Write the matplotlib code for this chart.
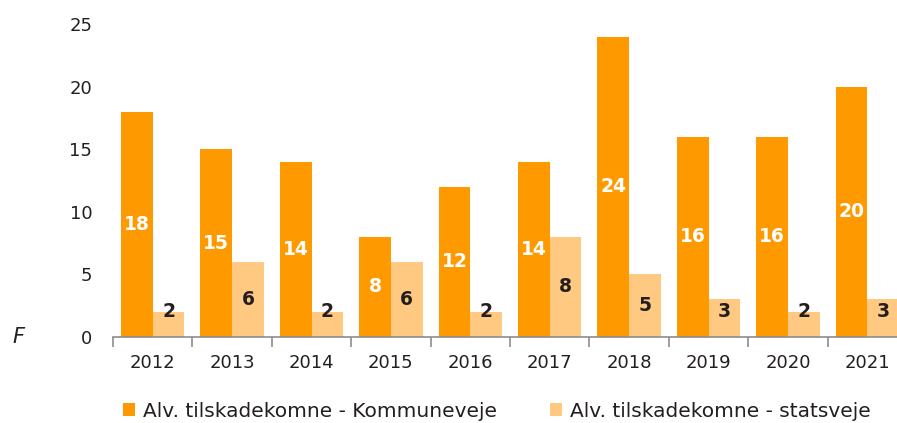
import matplotlib.pyplot as plt
import numpy as np

years = ["2012", "2013", "2014", "2015", "2016", "2017", "2018", "2019", "2020", "2021"]
kommuneveje = [18, 15, 14, 8, 12, 14, 24, 16, 16, 20]
statsveje = [2, 6, 2, 6, 2, 8, 5, 3, 2, 3]

c_kom = "#ff9900"
c_stat = "#ffc982"
txt = "#231f20"

plt.rcParams["font.family"] = ["DejaVu Sans"]

fig = plt.figure(figsize=(8.97, 4.23), dpi=100)
ax = fig.add_axes([113 / 897, 86 / 423, 794 / 897, 313 / 423])

x = np.arange(len(years))
w = 0.4
b1 = ax.bar(x - w / 2, kommuneveje, w, color=c_kom, label="Alv. tilskadekomne - Kommuneveje")
b2 = ax.bar(x + w / 2, statsveje, w, color=c_stat, label="Alv. tilskadekomne - statsveje")

# value labels, kept clear of the axis on short bars
for xi, v in zip(x, kommuneveje):
    ax.text(xi - w / 2, max(v / 2, 2), str(v), ha="center", va="center",
            color="white", fontsize=13.5, fontweight="bold")
for xi, v in zip(x, statsveje):
    ax.text(xi + w / 2, max(v / 2, 2), str(v), ha="center", va="center",
            color=txt, fontsize=13.5, fontweight="bold")

ax.set_xlim(-0.5, len(years) - 0.5)
ax.set_ylim(0, 25)
ax.set_yticks([0, 5, 10, 15, 20, 25])
ax.set_xticks(x)
ax.set_xticklabels(years)
ax.set_xticks(np.arange(-0.5, len(years)), minor=True)

for s in ["top", "right", "left"]:
    ax.spines[s].set_visible(False)
ax.spines["bottom"].set_color("#8c8c8c")
ax.spines["bottom"].set_linewidth(1.2)

ax.tick_params(axis="y", length=0, pad=15, labelsize=13, labelcolor=txt)
ax.tick_params(axis="x", which="major", length=0, pad=12, labelsize=13, labelcolor=txt)
ax.tick_params(axis="x", which="minor", length=7, width=1.2, color="#8c8c8c")

fig.text(12 / 897, 1 - 337 / 423, "F", fontsize=15, style="italic", color=txt, va="center")

fig.legend(handles=[b1, b2], loc="center left", bbox_to_anchor=(123 / 897, 1 - 411 / 423),
           ncol=2, frameon=False, fontsize=14.5, handlelength=0.6, handleheight=0.6,
           handletextpad=0.4, columnspacing=2.6, borderaxespad=0, borderpad=0,
           labelcolor=txt)

fig.savefig("out.png", dpi=100)
